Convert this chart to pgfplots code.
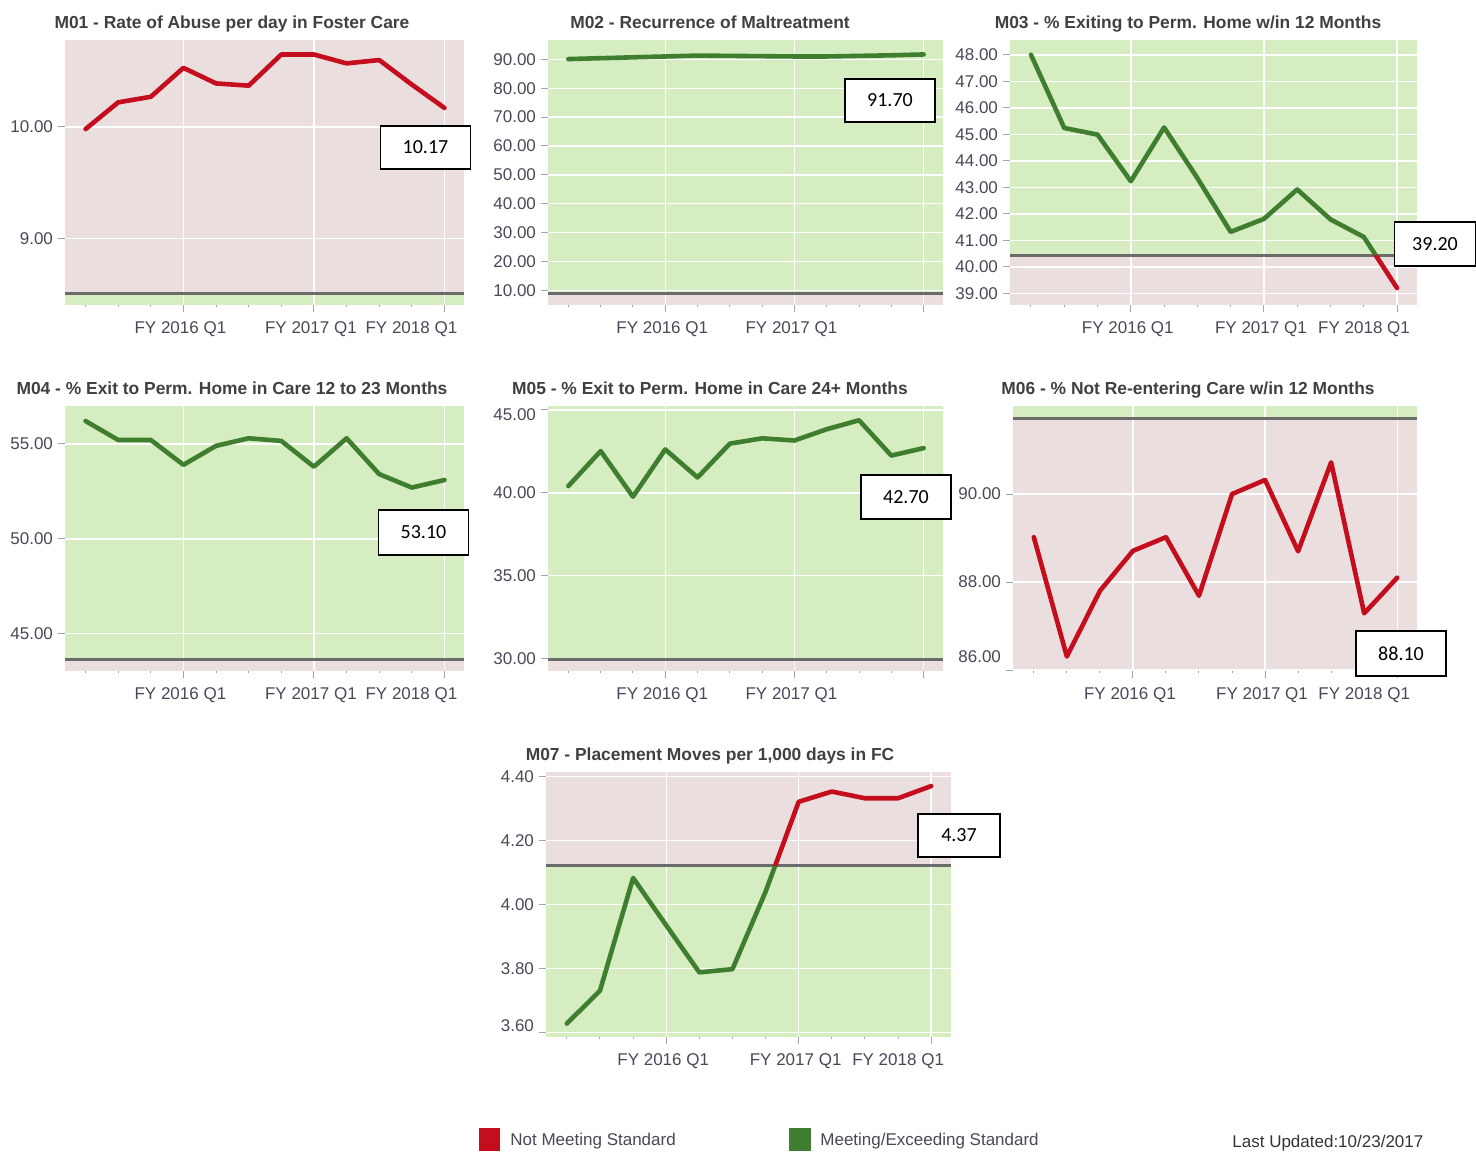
\documentclass[border=0pt]{standalone}
\usepackage{fontspec}
\setmainfont{Liberation Sans}
\newfontfamily\boxfont{Carlito}
\usepackage{pgfplots}
\pgfplotsset{compat=1.18}
\definecolor{pinkbg}{RGB}{235,222,223}
\definecolor{greenbg}{RGB}{214,236,193}
\definecolor{redline}{RGB}{196,14,30}
\definecolor{greenline}{RGB}{62,126,46}
\definecolor{thrline}{RGB}{95,95,95}
\definecolor{labelgray}{RGB}{72,72,88}
\definecolor{titlegray}{RGB}{64,64,64}
\definecolor{tickgray}{RGB}{165,165,165}
\tikzset{
 thr/.style={thrline, line width=1.5pt, opacity=0.9},
 valbox/.style={draw=black, line width=0.7pt, fill=white, inner sep=0pt, minimum width=45pt, minimum height=21.5pt, font=\boxfont\fontsize{10}{12}\selectfont},
 ttl/.style={anchor=base, font=\bfseries\fontsize{8.7}{10}\selectfont, text=titlegray},
}
\pgfplotsset{
 panel/.style={
  scale only axis, anchor=north west, set layers,
  height=132.5pt,
  xmin=-0.63, xmax=11.6,
  xtick={3,7}, minor xtick={0,1,...,11},
  xticklabels={FY 2016 Q1, FY 2017 Q1},
  extra x ticks={11},
  extra x tick labels={FY 2018 Q1},
  extra x tick style={grid=major, xticklabel style={xshift=-15pt}},
  axis line style={draw=none},
  xtick pos=bottom, ytick pos=left, tick align=outside,
  major tick length=3.5pt, minor tick length=1pt,
  every tick/.style={tickgray, line width=0.5pt},
  grid=major, major grid style={white, line width=0.7pt},
  tick label style={font=\fontsize{8.5}{10}\selectfont, text=labelgray},
  xticklabel style={xshift=-1.5pt, yshift=-1.5pt},
  yticklabel style={xshift=1pt},
  /pgf/number format/.cd, fixed, fixed zerofill, precision=2, assume math mode=true, /pgfplots/.cd,
 },
 redl/.style={redline, line width=2.3pt, line join=round, line cap=round, mark=none},
 greenl/.style={greenline, line width=2.3pt, line join=round, line cap=round, mark=none},
 pinkfill/.style={draw=none, fill=pinkbg, on layer=axis background, mark=none},
 greenfill/.style={draw=none, fill=greenbg, on layer=axis background, mark=none},
}
\begin{document}
\begin{tikzpicture}
% ---------------- M01
\begin{axis}[panel, at={(32.5pt,-20pt)}, width=199.5pt, ymin=8.40, ymax=10.78, ytick={9,10}]
 \addplot[pinkfill] coordinates {(-0.63,8.5) (11.6,8.5) (11.6,10.78) (-0.63,10.78)};
 \addplot[greenfill] coordinates {(-0.63,8.40) (11.6,8.40) (11.6,8.5) (-0.63,8.5)};
 \draw[thr] (-0.63,8.5) -- (11.6,8.5);
 \addplot[redl] coordinates {(0,9.98) (1,10.22) (2,10.27) (3,10.53) (4,10.39) (5,10.37) (6,10.65) (7,10.65) (8,10.57) (9,10.60) (10,10.38) (11,10.17)};
\end{axis}
% ---------------- M02
\begin{axis}[panel, at={(274pt,-20pt)}, width=197.5pt, ymin=4.9, ymax=96.7, ytick={10,20,...,90}, extra x tick labels={}]
 \addplot[greenfill] coordinates {(-0.63,9) (11.6,9) (11.6,96.7) (-0.63,96.7)};
 \addplot[pinkfill] coordinates {(-0.63,4.9) (11.6,4.9) (11.6,9) (-0.63,9)};
 \draw[thr] (-0.63,9) -- (11.6,9);
 \addplot[greenl] coordinates {(0,90.1) (1,90.4) (2,90.7) (3,91.0) (4,91.3) (5,91.2) (6,91.1) (7,91.0) (8,91.0) (9,91.2) (10,91.4) (11,91.7)};
\end{axis}
% ---------------- M03
\begin{axis}[panel, at={(505pt,-20pt)}, width=203.5pt, ymin=38.56, ymax=48.56, ytick={39,40,...,48}]
 \addplot[greenfill] coordinates {(-0.63,40.43) (11.6,40.43) (11.6,48.56) (-0.63,48.56)};
 \addplot[pinkfill] coordinates {(-0.63,38.56) (11.6,38.56) (11.6,40.43) (-0.63,40.43)};
 \draw[thr] (-0.63,40.43) -- (11.6,40.43);
 \begin{scope}
  \clip (-1,40.43) rectangle (12,50);
  \addplot[greenl] coordinates {(0,48.0) (1,45.24) (2,44.99) (3,43.23) (4,45.26) (5,43.35) (6,41.32) (7,41.81) (8,42.92) (9,41.79) (10,41.13) (11,39.2)};
 \end{scope}
 \begin{scope}
  \clip (-1,30) rectangle (12,40.43);
  \addplot[redl] coordinates {(0,48.0) (1,45.24) (2,44.99) (3,43.23) (4,45.26) (5,43.35) (6,41.32) (7,41.81) (8,42.92) (9,41.79) (10,41.13) (11,39.2)};
 \end{scope}
\end{axis}
% ---------------- M04
\begin{axis}[panel, at={(32.5pt,-203pt)}, width=199.5pt, ymin=43.03, ymax=57.0, ytick={45,50,55}]
 \addplot[greenfill] coordinates {(-0.63,43.65) (11.6,43.65) (11.6,57.0) (-0.63,57.0)};
 \addplot[pinkfill] coordinates {(-0.63,43.03) (11.6,43.03) (11.6,43.65) (-0.63,43.65)};
 \draw[thr] (-0.63,43.65) -- (11.6,43.65);
 \addplot[greenl] coordinates {(0,56.21) (1,55.21) (2,55.21) (3,53.9) (4,54.9) (5,55.3) (6,55.16) (7,53.8) (8,55.3) (9,53.41) (10,52.7) (11,53.1)};
\end{axis}
% ---------------- M05
\begin{axis}[panel, at={(274pt,-203pt)}, width=197.5pt, ymin=29.25, ymax=45.24, ytick={30,35,40}, extra x tick labels={},
  extra y ticks={45}, extra y tick style={grid=major, yticklabel style={yshift=-2.5pt}}]
 \addplot[greenfill] coordinates {(-0.63,29.96) (11.6,29.96) (11.6,45.24) (-0.63,45.24)};
 \addplot[pinkfill] coordinates {(-0.63,29.25) (11.6,29.25) (11.6,29.96) (-0.63,29.96)};
 \draw[thr] (-0.63,29.96) -- (11.6,29.96);
 \addplot[greenl] coordinates {(0,40.41) (1,42.52) (2,39.77) (3,42.62) (4,40.93) (5,42.97) (6,43.29) (7,43.16) (8,43.84) (9,44.38) (10,42.25) (11,42.7)};
\end{axis}
% ---------------- M06
\begin{axis}[panel, at={(506.5pt,-203pt)}, width=202pt, ymin=85.98, ymax=92.0, ytick={88,90},
  extra y ticks={86}, extra y tick style={grid=major, yticklabel style={yshift=6.5pt}}]
 \addplot[greenfill] coordinates {(-0.63,91.72) (11.6,91.72) (11.6,92.0) (-0.63,92.0)};
 \addplot[pinkfill] coordinates {(-0.63,85.98) (11.6,85.98) (11.6,91.72) (-0.63,91.72)};
 \draw[thr] (-0.63,91.72) -- (11.6,91.72);
 \addplot[redl] coordinates {(0,89.02) (1,86.31) (2,87.80) (3,88.71) (4,89.02) (5,87.69) (6,90.0) (7,90.32) (8,88.70) (9,90.72) (10,87.29) (11,88.1)};
\end{axis}
% ---------------- M07
\begin{axis}[panel, at={(273pt,-386pt)}, width=202.5pt, ymin=3.586, ymax=4.414, ytick={3.8,4.0,4.2,4.4},
  extra y ticks={3.6}, extra y tick style={grid=major, yticklabel style={yshift=3.5pt}}]
 \addplot[pinkfill] coordinates {(-0.63,4.121) (11.6,4.121) (11.6,4.414) (-0.63,4.414)};
 \addplot[greenfill] coordinates {(-0.63,3.586) (11.6,3.586) (11.6,4.121) (-0.63,4.121)};
 \draw[thr] (-0.63,4.121) -- (11.6,4.121);
 \begin{scope}
  \clip (-1,3) rectangle (12,4.121);
  \addplot[greenl] coordinates {(0,3.628) (1,3.731) (2,4.083) (3,3.935) (4,3.788) (5,3.798) (6,4.04) (7,4.321) (8,4.353) (9,4.332) (10,4.332) (11,4.37)};
 \end{scope}
 \begin{scope}
  \clip (-1,4.121) rectangle (12,5);
  \addplot[redl] coordinates {(0,3.628) (1,3.731) (2,4.083) (3,3.935) (4,3.788) (5,3.798) (6,4.04) (7,4.321) (8,4.353) (9,4.332) (10,4.332) (11,4.37)};
 \end{scope}
\end{axis}
% ---------------- titles
\node[ttl] at (116pt,-14pt) {M01 - Rate of Abuse per day in Foster Care};
\node[ttl] at (355pt,-14pt) {M02 - Recurrence of Maltreatment};
\node[ttl] at (594pt,-14pt) {M03 - \% Exiting to Perm. Home w/in 12 Months};
\node[ttl] at (116pt,-197pt) {M04 - \% Exit to Perm. Home in Care 12 to 23 Months};
\node[ttl] at (355pt,-197pt) {M05 - \% Exit to Perm. Home in Care 24+ Months};
\node[ttl] at (594pt,-197pt) {M06 - \% Not Re-entering Care w/in 12 Months};
\node[ttl] at (355pt,-380.3pt) {M07 - Placement Moves per 1,000 days in FC};
% ---------------- value boxes
\node[valbox] at (212.75pt,-73.75pt) {10.17};
\node[valbox] at (445pt,-50.25pt) {91.70};
\node[valbox, minimum width=40.5pt, minimum height=22pt] at (717.5pt,-122pt) {39.20};
\node[valbox, minimum height=22.5pt] at (211.75pt,-266.25pt) {53.10};
\node[valbox, minimum height=22pt] at (453pt,-248.5pt) {42.70};
\node[valbox, minimum height=22.5pt] at (700.5pt,-326.75pt) {88.10};
\node[valbox, minimum width=41pt] at (479.5pt,-417.75pt) {4.37};
% ---------------- legend
\fill[redline] (239.5pt,-564pt) rectangle (250pt,-575.5pt);
\node[anchor=west, inner sep=0pt, font=\fontsize{8.5}{10}\selectfont, text=labelgray] at (255pt,-570.5pt) {Not Meeting Standard};
\fill[greenline] (394.5pt,-564pt) rectangle (405.5pt,-575.5pt);
\node[anchor=west, inner sep=0pt, font=\fontsize{8.5}{10}\selectfont, text=labelgray] at (410pt,-570.5pt) {Meeting/Exceeding Standard};
\node[anchor=west, inner sep=0pt, font=\fontsize{8.5}{10}\selectfont, text=black!80] at (616pt,-571.5pt) {Last Updated:10/23/2017};
\pgfresetboundingbox
\path[use as bounding box] (0,0) rectangle (738pt,-576.5pt);
\end{tikzpicture}
\end{document}
